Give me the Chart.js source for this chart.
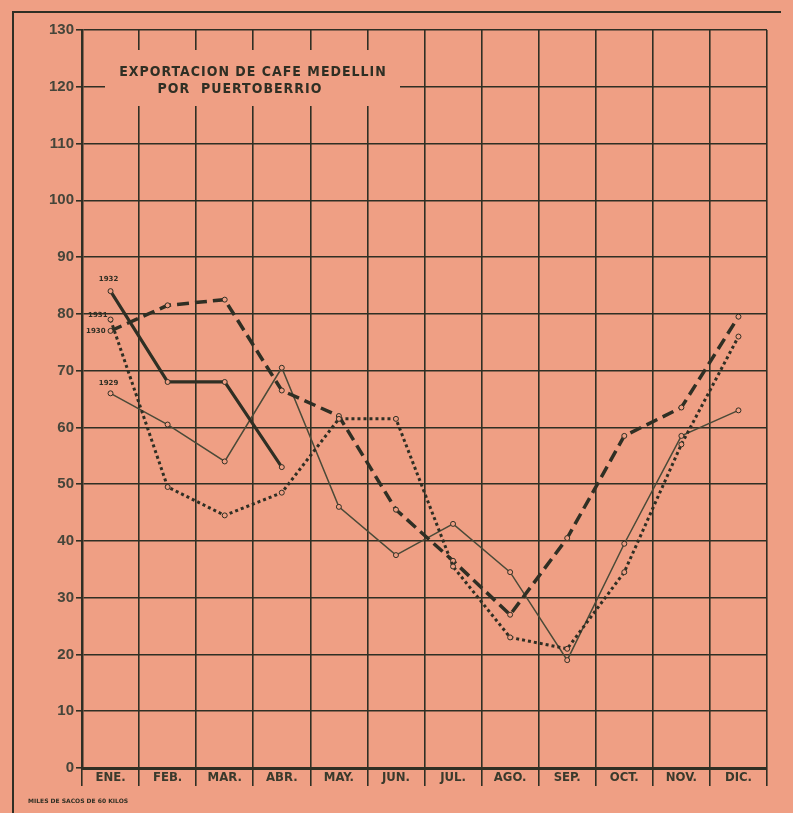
<!DOCTYPE html>
<html lang="es">
<head>
<meta charset="UTF-8" />
<title>Exportacion de cafe Medellin por Puertoberrio</title>
<script src="https://cdn.jsdelivr.net/npm/chart.js"></script>
<style>
  html, body { margin: 0; padding: 0; background: #ef9f84; }
  #wrap { width: 793px; height: 813px; position: relative; }
</style>
</head>
<body>
<div id="wrap"><canvas id="cafe"></canvas></div>
<script>
const months = ["ENE.", "FEB.", "MAR.", "ABR.", "MAY.", "JUN.", "JUL.", "AGO.", "SEP.", "OCT.", "NOV.", "DIC."];
// miles de sacos de 60 kilos
const y1932 = [84, 68, 68, 53, null, null, null, null, null, null, null, null];
const y1931 = [79, 49.5, 44.5, 48.5, 61.5, 61.5, 35.5, 23, 21, 34.5, 57, 76];
const y1930 = [77, 81.5, 82.5, 66.5, 62, 45.5, 36.5, 27, 40.5, 58.5, 63.5, 79.5];
const y1929 = [66, 60.5, 54, 70.5, 46, 37.5, 43, 34.5, 19, 39.5, 58.5, 63];
const yearLabels = ["1932", "1931", "1930", "1929"];

const bg = '#ef9f84';
const ink = '#2f2f24';

const decor = {
  id: 'decor',
  beforeDatasetsDraw(chart) {
    const ctx = chart.ctx;
    // title box hides the grid behind it
    ctx.save();
    ctx.fillStyle = bg;
    ctx.fillRect(105, 50, 295, 56);
    ctx.fillStyle = ink;
    ctx.font = 'bold 14px "DejaVu Sans Condensed", "DejaVu Sans", sans-serif';
    ctx.textAlign = 'center';
    ctx.textBaseline = 'middle';
    ctx.letterSpacing = '1px';
    ctx.fillText('EXPORTACION DE CAFE MEDELLIN', 253, 72);
    ctx.fillText('POR  PUERTOBERRIO', 240, 89);
    ctx.restore();
  },
  afterDraw(chart) {
    const ctx = chart.ctx;
    const x = chart.scales.x, y = chart.scales.y;
    ctx.save();
    // outer frame
    ctx.strokeStyle = ink;
    ctx.lineWidth = 2;
    ctx.beginPath();
    ctx.moveTo(13, 813);
    ctx.lineTo(13, 12);
    ctx.lineTo(781, 12);
    ctx.stroke();
    // year labels next to the first point
    ctx.fillStyle = ink;
    ctx.font = 'bold 7px "DejaVu Sans", sans-serif';
    ctx.textBaseline = 'middle';
    const x0 = x.getPixelForValue(0);
    ctx.textAlign = 'center';
    ctx.fillText(yearLabels[0], x0 - 2, y.getPixelForValue(y1932[0]) - 12);
    ctx.fillText(yearLabels[3], x0 - 2, y.getPixelForValue(y1929[0]) - 10);
    ctx.textAlign = 'right';
    ctx.fillText(yearLabels[1], x0 - 3, y.getPixelForValue(y1931[0]) - 4);
    ctx.fillText(yearLabels[2], x0 - 5, y.getPixelForValue(y1930[0]));
    // unit note
    ctx.textAlign = 'left';
    ctx.font = 'bold 6px "DejaVu Sans", sans-serif';
    ctx.fillText('MILES DE SACOS DE 60 KILOS', 28, 801);
    ctx.restore();
  }
};

const pointStyle = {
  pointRadius: 2.5,
  pointBackgroundColor: bg,
  pointBorderColor: ink,
  pointBorderWidth: 1,
  tension: 0
};

new Chart(document.getElementById('cafe'), {
  type: 'line',
  data: {
    labels: months,
    datasets: [
      { label: yearLabels[0], data: y1932, borderColor: ink, borderWidth: 3.2, ...pointStyle },
      { label: yearLabels[1], data: y1931, borderColor: ink, borderWidth: 3, borderDash: [3, 3], ...pointStyle },
      { label: yearLabels[2], data: y1930, borderColor: ink, borderWidth: 3.5, borderDash: [12, 6], ...pointStyle },
      { label: yearLabels[3], data: y1929, borderColor: '#4a4a38', borderWidth: 1.5, ...pointStyle }
    ]
  },
  options: {
    responsive: true,
    maintainAspectRatio: false,
    animation: false,
    layout: { padding: { left: 0, right: 26, top: 30, bottom: 0 } },
    plugins: { legend: { display: false }, tooltip: { enabled: false } },
    scales: {
      x: {
        offset: true,
        grid: { offset: true, color: ink, lineWidth: 1.6, tickLength: 18, tickColor: ink, tickWidth: 1.6 },
        border: { color: ink, width: 3 },
        ticks: {
          color: '#3a3a2c',
          padding: -16,
          font: { family: '"DejaVu Sans Condensed", "DejaVu Sans", sans-serif', size: 13, weight: 'bold' }
        },
        afterFit(s) { s.height = 45; }
      },
      y: {
        min: 0,
        max: 130,
        ticks: {
          stepSize: 10,
          color: '#45453a',
          padding: 2,
          font: { family: '"Liberation Sans", Arial, sans-serif', size: 15, weight: 'bold' }
        },
        grid: { color: ink, lineWidth: 1.6, tickLength: 6, tickColor: ink },
        border: { color: ink, width: 2.5 },
        afterFit(s) { s.width = 82; }
      }
    }
  },
  plugins: [decor]
});
</script>
</body>
</html>
